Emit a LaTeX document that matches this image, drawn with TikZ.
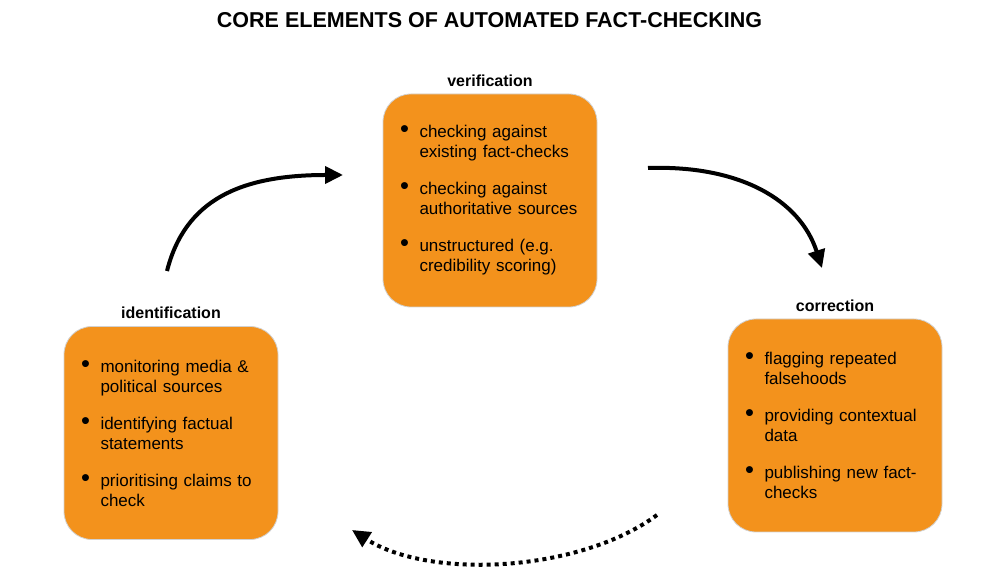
\documentclass[tikz,border=0pt]{standalone}
\usepackage{fontspec}
\setmainfont{Liberation Sans}
\usetikzlibrary{positioning,arrows.meta}
\definecolor{boxorange}{RGB}{243,146,28}
\newcommand{\itm}[1]{\hangindent=19.5pt\hangafter=1\noindent\makebox[19.5pt][l]{\scalebox{1.5}{\textbullet}}#1\par}
\newcommand{\itmgap}{\vspace{17pt}}

\begin{document}
\begin{tikzpicture}[x=1pt,y=1pt,
		phasebox/.style={rounded corners=28pt, fill=boxorange, draw=black!18, line width=0.8pt,
			minimum width=214pt, minimum height=213pt, text width=180pt, inner xsep=17pt,
			align=left, font=\fontsize{17}{20}\selectfont},
		phasetitle/.style={inner sep=0pt, font=\bfseries\fontsize{16}{19}\selectfont},
		flowarrow/.style={line width=4pt, -{Triangle[length=18pt,width=17pt]}},
		backarrow/.style={flowarrow, dash pattern=on 4pt off 4pt}]
	\useasboundingbox (0,0) rectangle (1004,580);
	\node[inner sep=0pt, font=\bfseries\fontsize{21.5}{25}\selectfont] (heading) at (489.5,560) {CORE ELEMENTS OF AUTOMATED FACT-CHECKING};
	% the three phases
	\node[phasebox] (verif) at (490,379.5) {\itm{checking against\newline existing fact-checks}\itmgap\itm{checking against\newline authoritative sources}\itmgap\itm{unstructured (e.g.\newline credibility scoring)}};
	\node[phasebox] (ident) at (171,147) {\itm{monitoring media \&\newline political sources}\itmgap\itm{identifying factual\newline statements}\itmgap\itm{prioritising claims to\newline check}};
	\node[phasebox] (corr) at (835,154.5) {\itm{flagging repeated\newline falsehoods}\itmgap\itm{providing contextual\newline data}\itmgap\itm{publishing new fact-\newline checks}};
	\node[phasetitle, above=7pt of verif] (veriftitle) {verification};
	\node[phasetitle, above=7pt of ident] (identtitle) {identification};
	\node[phasetitle, above=7pt of corr] (corrtitle) {correction};
	% cycle arrows
	\coordinate (idout) at (167,309);
	\coordinate (verin) at (343,405);
	\coordinate (verout) at (648,412);
	\coordinate (corin) at (822,312);
	\coordinate (corout) at (657,65);
	\coordinate (idin) at (352,50);
	\draw[flowarrow] (idout) .. controls (185,380) and (240,405) .. (verin);
	\draw[flowarrow] (verout) .. controls (740,415) and (800,380) .. (corin);
	\draw[backarrow] (corout) .. controls (580,8) and (430,0) .. (idin);
\end{tikzpicture}
\end{document}
